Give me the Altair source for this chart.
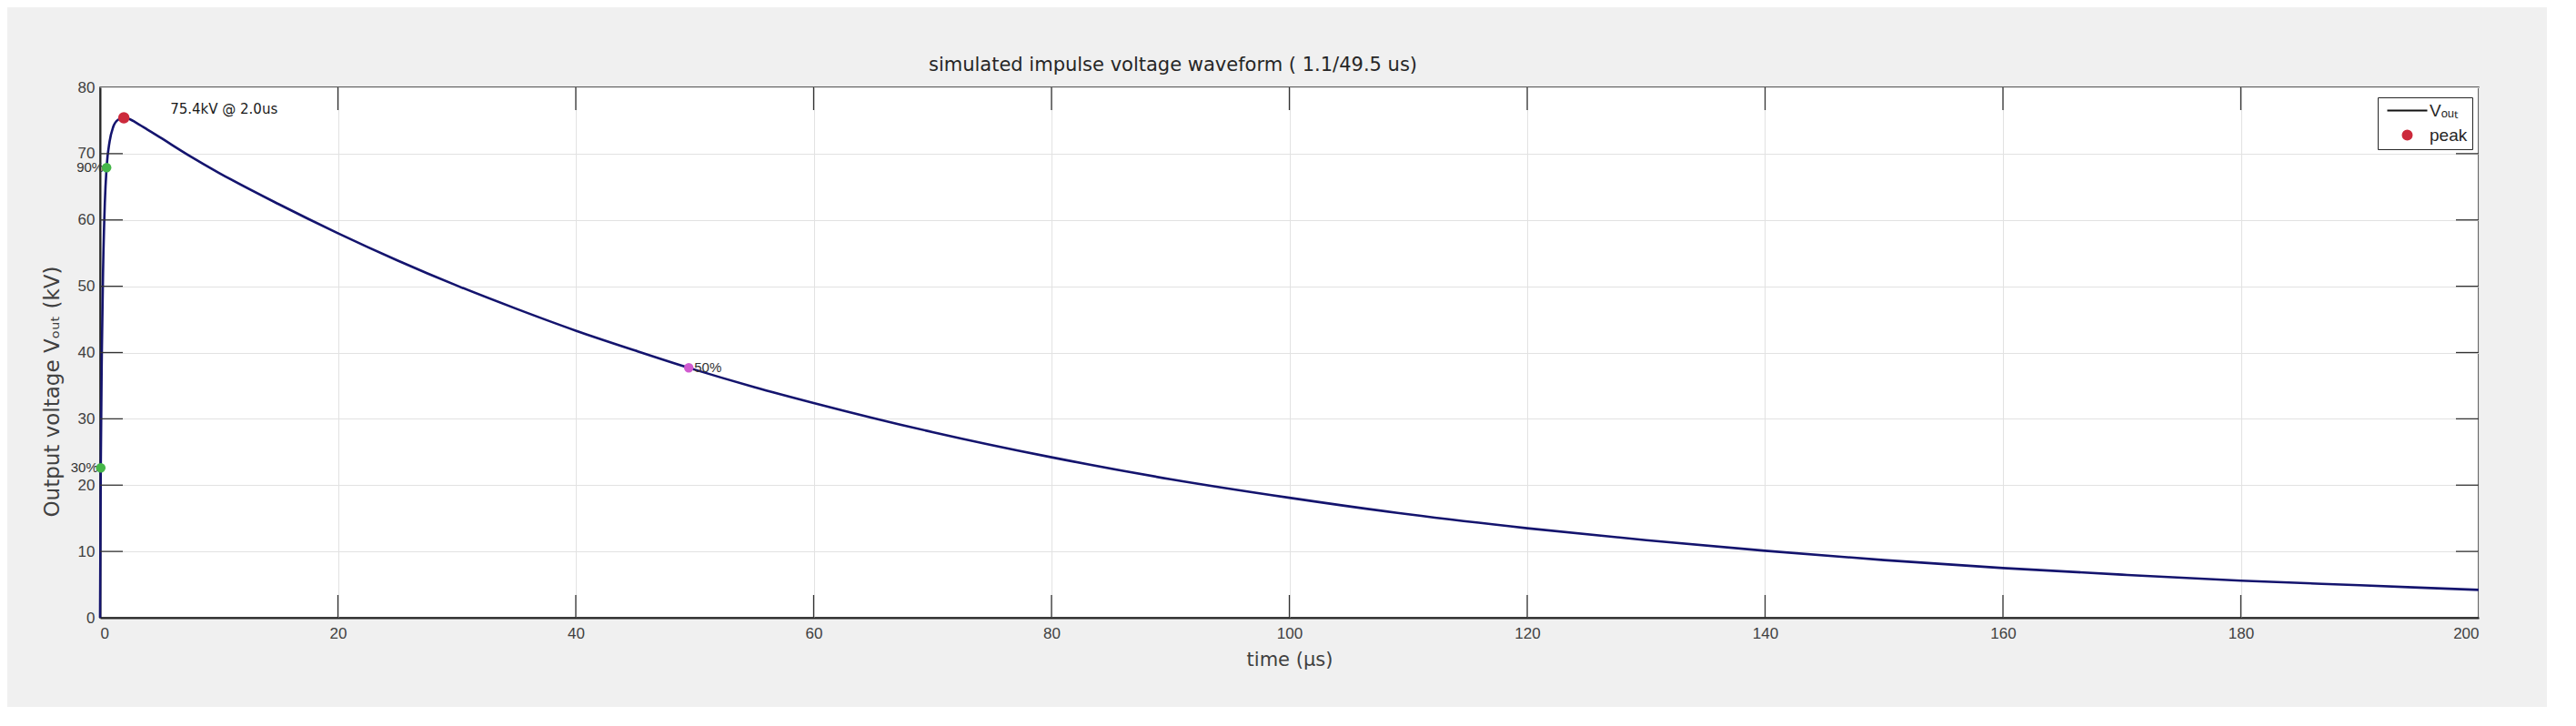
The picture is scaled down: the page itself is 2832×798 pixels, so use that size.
import altair as alt
import pandas as pd

# ---- data ----
time_us = [0, 0.06, 0.15, 0.25, 0.4, 0.55, 0.8, 1.1, 1.5, 2.0, 2.5, 3, 4, 5, 7.5, 10, 15, 20, 25, 30, 35, 40,
           45, 49.5, 55, 60, 70, 80, 90, 100, 110, 120, 130, 140, 150, 160, 170, 180, 190, 200]
vout_kv = [0, 22.6, 40.0, 52.0, 62.5, 67.9, 71.8, 74.0, 75.1, 75.4, 75.2, 74.7, 73.6, 72.5, 69.7, 67.1, 62.4, 58.0, 53.9, 50.1, 46.6, 43.3,
           40.3, 37.7, 34.8, 32.4, 28.0, 24.2, 20.9, 18.1, 15.6, 13.5, 11.7, 10.1, 8.7, 7.5, 6.5, 5.6, 4.9, 4.2]

peak_t = [2.0]
peak_v = [75.4]
peak_label = ["75.4kV @ 2.0us"]

front_t = [0.06, 0.55]
front_v = [22.6, 67.9]
front_labels = ["30%", "90%"]

tail_t = [49.5]
tail_v = [37.7]
tail_labels = ["50%"]

x_ticks = [0, 20, 40, 60, 80, 100, 120, 140, 160, 180, 200]
y_ticks = [0, 10, 20, 30, 40, 50, 60, 70, 80]
series_names = ["Vₒᵤₜ", "peak"]

W, H = 2615, 583
FONT = "Liberation Sans"
WFONT = "DejaVu Sans"

curve = pd.DataFrame({"t": time_us, "v": vout_kv})
peak = pd.DataFrame({"t": peak_t, "v": peak_v, "label": peak_label, "series": ["peak"]})
front = pd.DataFrame({"t": front_t, "v": front_v, "label": front_labels})
tail = pd.DataFrame({"t": tail_t, "v": tail_v, "label": tail_labels})
xt = pd.DataFrame({"t": x_ticks[1:-1]})
yt = pd.DataFrame({"v": y_ticks[1:-1]})

xscale = alt.Scale(domain=[0, 200], nice=False, zero=False)
yscale = alt.Scale(domain=[0, 80], nice=False)

x_axis = alt.Axis(values=x_ticks, grid=True, gridColor="#e2e2e2", gridWidth=1,
                  domainColor="#262626", domainWidth=2, ticks=False,
                  labelFontSize=17, labelColor="#404040", labelPadding=9, labelFont=FONT,
                  title="time (μs)", titleFontSize=21, titleFontWeight="normal",
                  titleColor="#404040", titlePadding=10, titleFont=WFONT)
y_axis = alt.Axis(values=y_ticks, grid=True, gridColor="#e2e2e2", gridWidth=1,
                  domainColor="#262626", domainWidth=2, ticks=False,
                  labelFontSize=17, labelColor="#404040", labelPadding=6, labelFont=FONT,
                  title="Output voltage  Vₒᵤₜ (kV)", titleFontSize=23, titleFontWeight="normal",
                  titleColor="#404040", titleFont=WFONT, titleAngle=-90,
                  titleX=-53, titleY=334, titleAlign="center", titleBaseline="middle")

line = alt.Chart(curve).mark_line(color="#14146e", strokeWidth=2.6, interpolate="monotone").encode(
    x=alt.X("t:Q", scale=xscale, axis=x_axis),
    y=alt.Y("v:Q", scale=yscale, axis=y_axis),
)

tick_col = "#333333"
bottom_ticks = alt.Chart(xt).mark_rule(color=tick_col, strokeWidth=1.3).encode(
    x=alt.X("t:Q", scale=xscale), y=alt.value(H), y2=alt.value(H - 25))
top_ticks = alt.Chart(xt).mark_rule(color=tick_col, strokeWidth=1.3).encode(
    x=alt.X("t:Q", scale=xscale), y=alt.value(0), y2=alt.value(25))
left_ticks = alt.Chart(yt).mark_rule(color=tick_col, strokeWidth=1.3).encode(
    y=alt.Y("v:Q", scale=yscale), x=alt.value(0), x2=alt.value(25))
right_ticks = alt.Chart(yt).mark_rule(color=tick_col, strokeWidth=1.3).encode(
    y=alt.Y("v:Q", scale=yscale), x=alt.value(W - 25), x2=alt.value(W))

front_text = alt.Chart(front).mark_text(align="right", baseline="middle", dx=-3, fontSize=15,
                                        font=FONT, color="#333333").encode(
    x=alt.X("t:Q", scale=xscale), y=alt.Y("v:Q", scale=yscale), text="label:N")
tail_text = alt.Chart(tail).mark_text(align="left", baseline="middle", dx=6, fontSize=15,
                                      font=FONT, color="#333333").encode(
    x=alt.X("t:Q", scale=xscale), y=alt.Y("v:Q", scale=yscale), text="label:N")
peak_text = alt.Chart(peak).mark_text(align="left", baseline="middle", dx=51, dy=-10, fontSize=15,
                                      font=WFONT, color="#1a1a1a").encode(
    x=alt.X("t:Q", scale=xscale), y=alt.Y("v:Q", scale=yscale), text="label:N")

front_pts = alt.Chart(front).mark_point(filled=True, size=110, color="#45b649", opacity=1).encode(
    x=alt.X("t:Q", scale=xscale), y=alt.Y("v:Q", scale=yscale))
tail_pts = alt.Chart(tail).mark_point(filled=True, size=110, color="#d05ad0", opacity=1).encode(
    x=alt.X("t:Q", scale=xscale), y=alt.Y("v:Q", scale=yscale))

leg = alt.Legend(title=None, orient="none", legendX=2504, legendY=11,
                 strokeColor="#262626", fillColor="white", padding=5, cornerRadius=0,
                 labelFontSize=19, labelFont=FONT, labelColor="#262626",
                 symbolStrokeWidth=2, rowPadding=7, symbolOffset=18, labelOffset=15)
peak_pts = alt.Chart(peak).mark_point(filled=True, size=110, opacity=1, strokeWidth=2).encode(
    x=alt.X("t:Q", scale=xscale), y=alt.Y("v:Q", scale=yscale),
    shape=alt.Shape("series:N", scale=alt.Scale(domain=series_names, range=["M-4.4,0H4.4", "circle"]), legend=leg),
    fill=alt.Fill("series:N", scale=alt.Scale(domain=series_names, range=["#111111", "#cc2a3c"]), legend=leg),
    stroke=alt.Stroke("series:N", scale=alt.Scale(domain=series_names, range=["#111111", "#cc2a3c"]), legend=leg),
)

chart = alt.layer(
    line, bottom_ticks, top_ticks, left_ticks, right_ticks,
    front_text, tail_text, peak_text, front_pts, tail_pts, peak_pts
).properties(
    width=W, height=H,
    title=alt.TitleParams(text="simulated impulse voltage waveform ( 1.1/49.5 us)", fontSize=21,
                          font=WFONT, fontWeight="normal", color="#262626", frame="group",
                          anchor="middle", dx=-128, offset=5),
    autosize=alt.AutoSizeParams(type="none"),
    padding={"left": 102, "top": 88, "right": 75, "bottom": 98},
    background="#f0f0f0",
).configure_view(fill="white", stroke="#333333", strokeWidth=1.5)

chart.save("out.html", embed_options={"renderer": "svg", "actions": False})
